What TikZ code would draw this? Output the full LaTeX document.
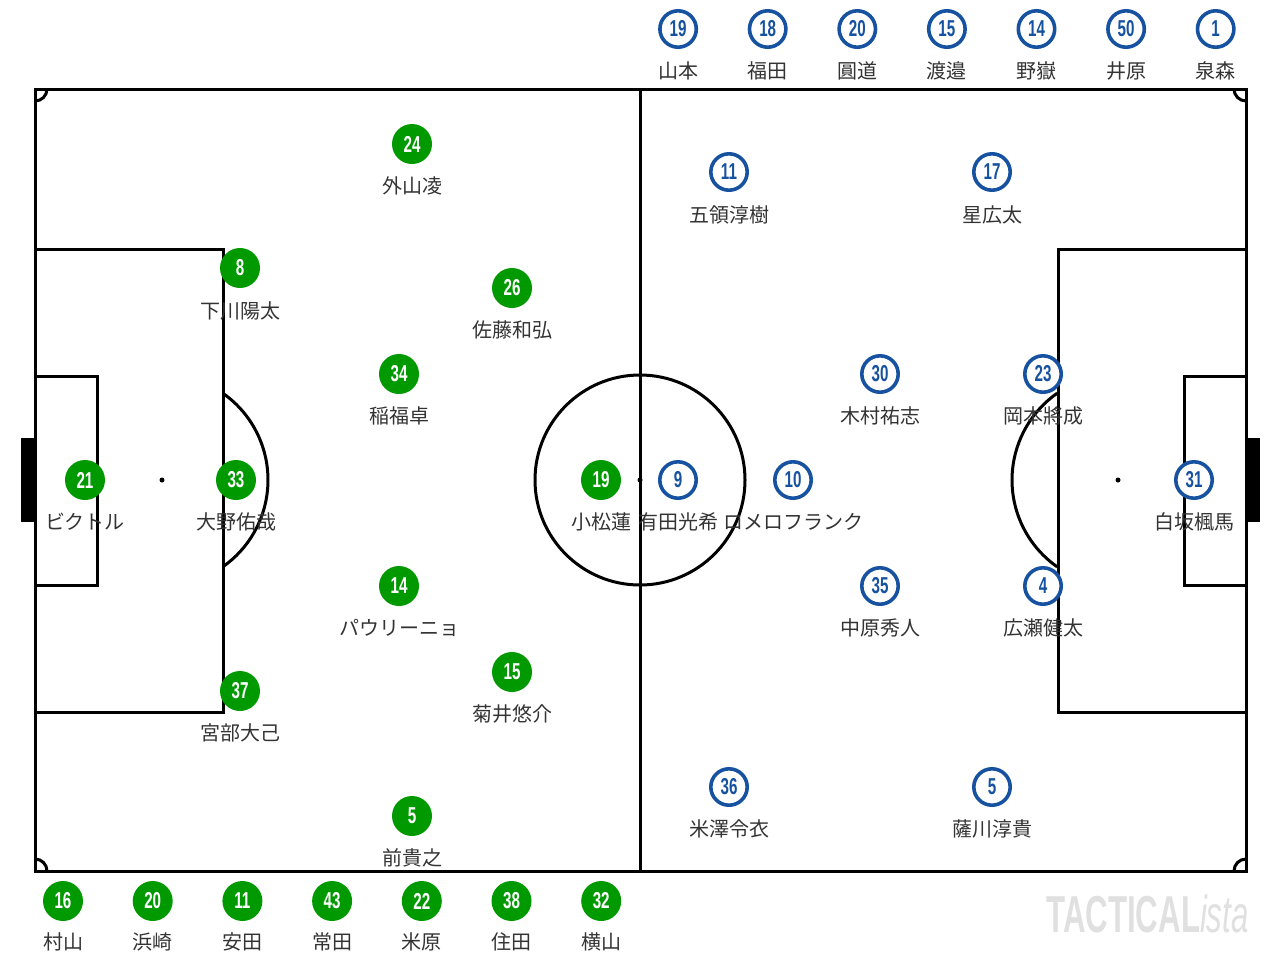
\documentclass[tikz,border=0pt]{standalone}
\usepackage{fontspec}
\newfontfamily\jpfont{Noto Sans CJK JP}
\newfontfamily\numfont[FakeStretch=0.66]{Liberation Sans}
\newfontfamily\markfont[FakeStretch=0.6]{Liberation Sans}
\definecolor{homegreen}{RGB}{0,153,0}
\definecolor{awayblue}{RGB}{22,82,160}
\definecolor{namegray}{RGB}{51,51,51}

\begin{document}
\begin{tikzpicture}[x=0.5pt,y=-0.5pt,
    pitch/.style={line width=1.5pt, black},
    home/.style={circle, fill=homegreen, minimum size=20pt, inner sep=0pt,
        text=white, font=\numfont\bfseries\fontsize{11.5}{11.5}\selectfont},
    away/.style={circle, draw=awayblue, line width=1.8pt, fill=white, minimum size=18.2pt,
        inner sep=0pt, text=awayblue, font=\numfont\bfseries\fontsize{11.5}{11.5}\selectfont},
    pname/.style={text=namegray, inner sep=0pt, font=\jpfont\fontsize{10}{10}\selectfont}]
\useasboundingbox (0,0) rectangle (1280,960);

% pitch
\draw[pitch] (35,89) rectangle (1246,871);
\draw[pitch] (640,89) -- (640,871);
\draw[pitch] (640,480) circle[radius=105];
\fill (640,480) circle[radius=2.5];
\draw[pitch] (47,89) arc[start angle=0, end angle=90, radius=12];
\draw[pitch] (1234,89) arc[start angle=180, end angle=90, radius=12];
\draw[pitch] (47,871) arc[start angle=0, end angle=-90, radius=12];
\draw[pitch] (1234,871) arc[start angle=180, end angle=270, radius=12];
% left end
\draw[pitch] (35,249) -- (223,249) -- (223,712) -- (35,712);
\draw[pitch] (35,376) -- (97,376) -- (97,585) -- (35,585);
\fill (162,480) circle[radius=2.5];
\draw[pitch] (162,480) ++(-55:106) arc[start angle=-55, end angle=55, radius=106];
\fill (21,438) rectangle (35,522);
% right end
\draw[pitch] (1246,249) -- (1058,249) -- (1058,712) -- (1246,712);
\draw[pitch] (1246,376) -- (1184,376) -- (1184,585) -- (1246,585);
\fill (1118,480) circle[radius=2.5];
\draw[pitch] (1118,480) ++(125:106) arc[start angle=125, end angle=235, radius=106];
\fill (1246,438) rectangle (1260,522);

% home side
\node[home](H24) at (412,144){24};  \node[pname](H24n) at (412,186){外山凌};
\node[home](H8) at (240,268){8};    \node[pname](H8n) at (240,311){下川陽太};
\node[home](H26) at (512,288){26};  \node[pname](H26n) at (512,330){佐藤和弘};
\node[home](H34) at (399,374){34};  \node[pname](H34n) at (399,416){稲福卓};
\node[home](H21) at (85,480){21};   \node[pname](H21n) at (85,522){ビクトル};
\node[home](H33) at (236,480){33};  \node[pname](H33n) at (236,522){大野佑哉};
\node[home](H19) at (601,480){19};  \node[pname](H19n) at (601,522){小松蓮};
\node[home](H14) at (399,586){14};  \node[pname](H14n) at (399,628){パウリーニョ};
\node[home](H15) at (512,672){15};  \node[pname](H15n) at (512,714){菊井悠介};
\node[home](H37) at (240,691){37};  \node[pname](H37n) at (240,733){宮部大己};
\node[home](H5) at (412,816){5};    \node[pname](H5n) at (412,858){前貴之};

% away side
\node[away](A11) at (729,172){11};  \node[pname](A11n) at (729,215){五領淳樹};
\node[away](A17) at (992,172){17};  \node[pname](A17n) at (992,215){星広太};
\node[away](A30) at (880,374){30};  \node[pname](A30n) at (880,416){木村祐志};
\node[away](A23) at (1043,374){23}; \node[pname](A23n) at (1043,416){岡本將成};
\node[away](A9) at (678,480){9};    \node[pname](A9n) at (678,522){有田光希};
\node[away](A10) at (793,480){10};  \node[pname](A10n) at (793,522){ロメロフランク};
\node[away](A31) at (1194,480){31}; \node[pname](A31n) at (1194,522){白坂楓馬};
\node[away](A35) at (880,586){35};  \node[pname](A35n) at (880,628){中原秀人};
\node[away](A4) at (1043,586){4};   \node[pname](A4n) at (1043,628){広瀬健太};
\node[away](A36) at (729,787){36};  \node[pname](A36n) at (729,829){米澤令衣};
\node[away](A5) at (992,787){5};    \node[pname](A5n) at (992,829){薩川淳貴};

% substitutes
\foreach \num/\nm [count=\i] in {19/山本,18/福田,20/圓道,15/渡邉,14/野嶽,50/井原,1/泉森}
  {\node[away](AS\i) at (588.5+89.6*\i,29){\num};
   \node[pname](AS\i n) at (588.5+89.6*\i,71){\nm};}
\foreach \num/\nm [count=\i] in {16/村山,20/浜崎,11/安田,43/常田,22/米原,38/住田,32/横山}
  {\node[home](HS\i) at (-26.7+89.7*\i,901){\num};
   \node[pname](HS\i n) at (-26.7+89.7*\i,942){\nm};}

% watermark
\node[anchor=base east, inner sep=0pt, text=black!12](mark) at (1249,932)
  {\markfont\fontsize{26}{26}\selectfont\bfseries TACTICAL\mdseries\itshape ista};

\end{tikzpicture}
\end{document}
